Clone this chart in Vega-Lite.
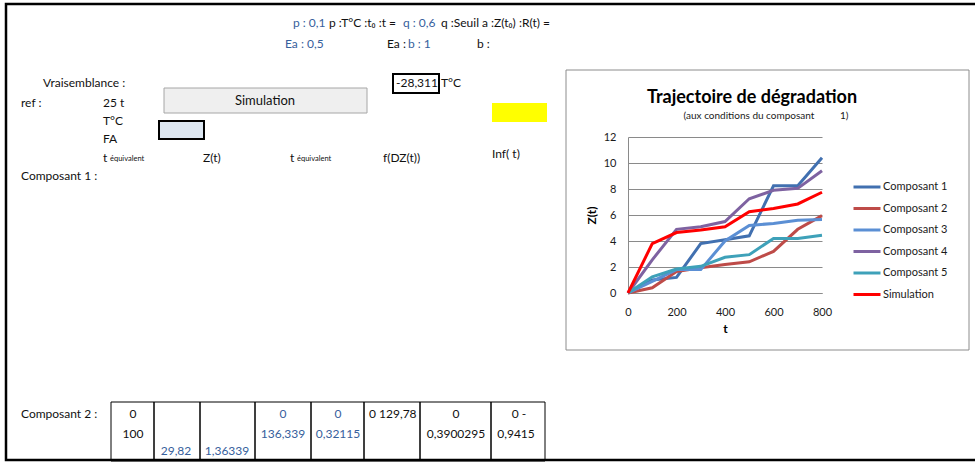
{
  "$schema": "https://vega.github.io/schema/vega-lite/v6.json",
  "width": 194,
  "height": 156,
  "autosize": {"type": "none"},
  "padding": {"left": 628, "top": 137, "right": 153, "bottom": 169},
  "background": "white",
  "config": {"view": {"stroke": null}, "font": "Lato", "text": {"font": "Lato"}},
  "datasets": {
    "traj": [
      {"t": 0, "z": 0, "serie": "Composant 1"},
      {"t": 100, "z": 1.0, "serie": "Composant 1"},
      {"t": 200, "z": 1.2, "serie": "Composant 1"},
      {"t": 300, "z": 3.8, "serie": "Composant 1"},
      {"t": 400, "z": 4.1, "serie": "Composant 1"},
      {"t": 500, "z": 4.4, "serie": "Composant 1"},
      {"t": 600, "z": 8.25, "serie": "Composant 1"},
      {"t": 700, "z": 8.25, "serie": "Composant 1"},
      {"t": 800, "z": 10.4, "serie": "Composant 1"},
      {"t": 0, "z": 0, "serie": "Composant 2"},
      {"t": 100, "z": 0.4, "serie": "Composant 2"},
      {"t": 200, "z": 1.65, "serie": "Composant 2"},
      {"t": 300, "z": 1.95, "serie": "Composant 2"},
      {"t": 400, "z": 2.2, "serie": "Composant 2"},
      {"t": 500, "z": 2.4, "serie": "Composant 2"},
      {"t": 600, "z": 3.2, "serie": "Composant 2"},
      {"t": 700, "z": 4.9, "serie": "Composant 2"},
      {"t": 800, "z": 5.95, "serie": "Composant 2"},
      {"t": 0, "z": 0, "serie": "Composant 3"},
      {"t": 100, "z": 0.9, "serie": "Composant 3"},
      {"t": 200, "z": 1.8, "serie": "Composant 3"},
      {"t": 300, "z": 1.8, "serie": "Composant 3"},
      {"t": 400, "z": 4.0, "serie": "Composant 3"},
      {"t": 500, "z": 5.2, "serie": "Composant 3"},
      {"t": 600, "z": 5.35, "serie": "Composant 3"},
      {"t": 700, "z": 5.6, "serie": "Composant 3"},
      {"t": 800, "z": 5.65, "serie": "Composant 3"},
      {"t": 0, "z": 0, "serie": "Composant 4"},
      {"t": 100, "z": 2.55, "serie": "Composant 4"},
      {"t": 200, "z": 4.9, "serie": "Composant 4"},
      {"t": 300, "z": 5.1, "serie": "Composant 4"},
      {"t": 400, "z": 5.5, "serie": "Composant 4"},
      {"t": 500, "z": 7.25, "serie": "Composant 4"},
      {"t": 600, "z": 7.9, "serie": "Composant 4"},
      {"t": 700, "z": 8.05, "serie": "Composant 4"},
      {"t": 800, "z": 9.4, "serie": "Composant 4"},
      {"t": 0, "z": 0, "serie": "Composant 5"},
      {"t": 100, "z": 1.25, "serie": "Composant 5"},
      {"t": 200, "z": 1.85, "serie": "Composant 5"},
      {"t": 300, "z": 2.05, "serie": "Composant 5"},
      {"t": 400, "z": 2.75, "serie": "Composant 5"},
      {"t": 500, "z": 2.95, "serie": "Composant 5"},
      {"t": 600, "z": 4.2, "serie": "Composant 5"},
      {"t": 700, "z": 4.2, "serie": "Composant 5"},
      {"t": 800, "z": 4.45, "serie": "Composant 5"},
      {"t": 0, "z": 0, "serie": "Simulation"},
      {"t": 100, "z": 3.8, "serie": "Simulation"},
      {"t": 200, "z": 4.65, "serie": "Simulation"},
      {"t": 300, "z": 4.85, "serie": "Simulation"},
      {"t": 400, "z": 5.1, "serie": "Simulation"},
      {"t": 500, "z": 6.25, "serie": "Simulation"},
      {"t": 600, "z": 6.5, "serie": "Simulation"},
      {"t": 700, "z": 6.85, "serie": "Simulation"},
      {"t": 800, "z": 7.75, "serie": "Simulation"}
    ]
  },
  "layer": [
    {
      "layer": [
        {
          "data": {"values": [{"x": 6, "y": 4, "x2": 995, "y2": 460}]},
          "mark": {"type": "rect", "fillOpacity": 0, "stroke": "#000000", "strokeWidth": 2.5},
          "encoding": {
            "x": {"field": "x", "type": "quantitative", "scale": {"domain": [0, 975], "range": [-628, 347], "nice": false, "zero": false}, "axis": null},
            "y": {"field": "y", "type": "quantitative", "scale": {"domain": [0, 462], "range": [-137, 325], "nice": false, "zero": false}, "axis": null},
            "x2": {"field": "x2"},
            "y2": {"field": "y2"}
          }
        },
        {
          "data": {"values": [{"x": 566, "y": 70, "x2": 969, "y2": 350}]},
          "mark": {"type": "rect", "fillOpacity": 0, "stroke": "#8c8c8c", "strokeWidth": 1},
          "encoding": {
            "x": {"field": "x", "type": "quantitative", "scale": {"domain": [0, 975], "range": [-628, 347], "nice": false, "zero": false}, "axis": null},
            "y": {"field": "y", "type": "quantitative", "scale": {"domain": [0, 462], "range": [-137, 325], "nice": false, "zero": false}, "axis": null},
            "x2": {"field": "x2"},
            "y2": {"field": "y2"}
          }
        },
        {
          "data": {"values": [{"x": 164, "y": 88, "x2": 367, "y2": 113}]},
          "mark": {"type": "rect", "fill": "#efefef", "stroke": "#a6a6a6", "strokeWidth": 1},
          "encoding": {
            "x": {"field": "x", "type": "quantitative", "scale": {"domain": [0, 975], "range": [-628, 347], "nice": false, "zero": false}, "axis": null},
            "y": {"field": "y", "type": "quantitative", "scale": {"domain": [0, 462], "range": [-137, 325], "nice": false, "zero": false}, "axis": null},
            "x2": {"field": "x2"},
            "y2": {"field": "y2"}
          }
        },
        {
          "data": {"values": [{"x": 492, "y": 103, "x2": 547, "y2": 122}]},
          "mark": {"type": "rect", "fill": "#ffff00"},
          "encoding": {
            "x": {"field": "x", "type": "quantitative", "scale": {"domain": [0, 975], "range": [-628, 347], "nice": false, "zero": false}, "axis": null},
            "y": {"field": "y", "type": "quantitative", "scale": {"domain": [0, 462], "range": [-137, 325], "nice": false, "zero": false}, "axis": null},
            "x2": {"field": "x2"},
            "y2": {"field": "y2"}
          }
        },
        {
          "data": {"values": [{"x": 159, "y": 121, "x2": 204, "y2": 139}]},
          "mark": {"type": "rect", "fill": "#dce6f1", "stroke": "#000000", "strokeWidth": 2},
          "encoding": {
            "x": {"field": "x", "type": "quantitative", "scale": {"domain": [0, 975], "range": [-628, 347], "nice": false, "zero": false}, "axis": null},
            "y": {"field": "y", "type": "quantitative", "scale": {"domain": [0, 462], "range": [-137, 325], "nice": false, "zero": false}, "axis": null},
            "x2": {"field": "x2"},
            "y2": {"field": "y2"}
          }
        },
        {
          "data": {"values": [{"x": 393, "y": 74, "x2": 439, "y2": 93}]},
          "mark": {"type": "rect", "fillOpacity": 0, "stroke": "#000000", "strokeWidth": 2},
          "encoding": {
            "x": {"field": "x", "type": "quantitative", "scale": {"domain": [0, 975], "range": [-628, 347], "nice": false, "zero": false}, "axis": null},
            "y": {"field": "y", "type": "quantitative", "scale": {"domain": [0, 462], "range": [-137, 325], "nice": false, "zero": false}, "axis": null},
            "x2": {"field": "x2"},
            "y2": {"field": "y2"}
          }
        },
        {
          "data": {"values": [
            {"x": 111, "y": 402, "x2": 154, "y2": 461},
            {"x": 154, "y": 402, "x2": 200, "y2": 461},
            {"x": 200, "y": 402, "x2": 255, "y2": 461},
            {"x": 255, "y": 402, "x2": 311, "y2": 461},
            {"x": 311, "y": 402, "x2": 364, "y2": 461},
            {"x": 364, "y": 402, "x2": 420, "y2": 461},
            {"x": 420, "y": 402, "x2": 491, "y2": 461},
            {"x": 491, "y": 402, "x2": 545, "y2": 461}
          ]},
          "mark": {"type": "rect", "fillOpacity": 0, "stroke": "#000000", "strokeWidth": 1},
          "encoding": {
            "x": {"field": "x", "type": "quantitative", "scale": {"domain": [0, 975], "range": [-628, 347], "nice": false, "zero": false}, "axis": null},
            "y": {"field": "y", "type": "quantitative", "scale": {"domain": [0, 462], "range": [-137, 325], "nice": false, "zero": false}, "axis": null},
            "x2": {"field": "x2"},
            "y2": {"field": "y2"}
          }
        },
        {
          "data": {"values": [{"x": 752, "y": 98, "text": "Trajectoire de dégradation"}]},
          "mark": {"type": "text", "align": "center", "baseline": "middle", "fontSize": 18, "fontWeight": "bold", "color": "#000000"},
          "encoding": {
            "x": {"field": "x", "type": "quantitative", "scale": {"domain": [0, 975], "range": [-628, 347], "nice": false, "zero": false}, "axis": null},
            "y": {"field": "y", "type": "quantitative", "scale": {"domain": [0, 462], "range": [-137, 325], "nice": false, "zero": false}, "axis": null},
            "text": {"field": "text"}
          }
        },
        {
          "data": {"values": [{"x": 766, "y": 116, "text": "(aux conditions du composant\u00a0\u00a0\u00a0\u00a0\u00a0\u00a0\u00a0\u00a0\u00a0\u00a01)"}]},
          "mark": {"type": "text", "align": "center", "baseline": "middle", "fontSize": 10, "color": "#1a1a1a"},
          "encoding": {
            "x": {"field": "x", "type": "quantitative", "scale": {"domain": [0, 975], "range": [-628, 347], "nice": false, "zero": false}, "axis": null},
            "y": {"field": "y", "type": "quantitative", "scale": {"domain": [0, 462], "range": [-137, 325], "nice": false, "zero": false}, "axis": null},
            "text": {"field": "text"}
          }
        },
        {
          "data": {"values": [
            {"x": 329, "y": 23, "text": "p :T°C  :t₀ :t ="},
            {"x": 441, "y": 23, "text": "q :Seuil a  :Z(t₀) :R(t) ="},
            {"x": 387, "y": 44, "text": "Ea :"},
            {"x": 477, "y": 44, "text": "b :"},
            {"x": 43, "y": 83, "text": "Vraisemblance :"},
            {"x": 396, "y": 83, "text": "-28,311"},
            {"x": 441, "y": 83, "text": "T°C"},
            {"x": 21, "y": 103, "text": "ref :"},
            {"x": 103, "y": 103, "text": "25 t"},
            {"x": 103, "y": 121, "text": "T°C"},
            {"x": 103, "y": 139, "text": "FA"},
            {"x": 103, "y": 158, "text": "t"},
            {"x": 203, "y": 158, "text": "Z(t)"},
            {"x": 290, "y": 158, "text": "t"},
            {"x": 383, "y": 158, "text": "f(DZ(t))"},
            {"x": 492, "y": 154, "text": "Inf( t)"},
            {"x": 21, "y": 176, "text": "Composant 1 :"},
            {"x": 21, "y": 414, "text": "Composant 2 :"},
            {"x": 369, "y": 414, "text": "0 129,78"}
          ]},
          "mark": {"type": "text", "align": "left", "baseline": "middle", "fontSize": 12, "color": "#111111"},
          "encoding": {
            "x": {"field": "x", "type": "quantitative", "scale": {"domain": [0, 975], "range": [-628, 347], "nice": false, "zero": false}, "axis": null},
            "y": {"field": "y", "type": "quantitative", "scale": {"domain": [0, 462], "range": [-137, 325], "nice": false, "zero": false}, "axis": null},
            "text": {"field": "text"}
          }
        },
        {
          "data": {"values": [
            {"x": 110, "y": 159, "text": "équivalent"},
            {"x": 297, "y": 159, "text": "équivalent"}
          ]},
          "mark": {"type": "text", "align": "left", "baseline": "middle", "fontSize": 7.5, "color": "#111111"},
          "encoding": {
            "x": {"field": "x", "type": "quantitative", "scale": {"domain": [0, 975], "range": [-628, 347], "nice": false, "zero": false}, "axis": null},
            "y": {"field": "y", "type": "quantitative", "scale": {"domain": [0, 462], "range": [-137, 325], "nice": false, "zero": false}, "axis": null},
            "text": {"field": "text"}
          }
        },
        {
          "data": {"values": [
            {"x": 293, "y": 23, "text": "p : 0,1"},
            {"x": 403, "y": 23, "text": "q : 0,6"},
            {"x": 285, "y": 44, "text": "Ea : 0,5"},
            {"x": 408, "y": 44, "text": "b : 1"}
          ]},
          "mark": {"type": "text", "align": "left", "baseline": "middle", "fontSize": 12, "color": "#36609c"},
          "encoding": {
            "x": {"field": "x", "type": "quantitative", "scale": {"domain": [0, 975], "range": [-628, 347], "nice": false, "zero": false}, "axis": null},
            "y": {"field": "y", "type": "quantitative", "scale": {"domain": [0, 462], "range": [-137, 325], "nice": false, "zero": false}, "axis": null},
            "text": {"field": "text"}
          }
        },
        {
          "data": {"values": [
            {"x": 265, "y": 101, "text": "Simulation"}
          ]},
          "mark": {"type": "text", "align": "center", "baseline": "middle", "fontSize": 13, "color": "#111111"},
          "encoding": {
            "x": {"field": "x", "type": "quantitative", "scale": {"domain": [0, 975], "range": [-628, 347], "nice": false, "zero": false}, "axis": null},
            "y": {"field": "y", "type": "quantitative", "scale": {"domain": [0, 462], "range": [-137, 325], "nice": false, "zero": false}, "axis": null},
            "text": {"field": "text"}
          }
        },
        {
          "data": {"values": [
            {"x": 133, "y": 414, "text": "0"},
            {"x": 133, "y": 434, "text": "100"},
            {"x": 456, "y": 414, "text": "0"},
            {"x": 456, "y": 434, "text": "0,3900295"},
            {"x": 519, "y": 414, "text": "0 -"},
            {"x": 516, "y": 434, "text": "0,9415"}
          ]},
          "mark": {"type": "text", "align": "center", "baseline": "middle", "fontSize": 12, "color": "#111111"},
          "encoding": {
            "x": {"field": "x", "type": "quantitative", "scale": {"domain": [0, 975], "range": [-628, 347], "nice": false, "zero": false}, "axis": null},
            "y": {"field": "y", "type": "quantitative", "scale": {"domain": [0, 462], "range": [-137, 325], "nice": false, "zero": false}, "axis": null},
            "text": {"field": "text"}
          }
        },
        {
          "data": {"values": [
            {"x": 176, "y": 451, "text": "29,82"},
            {"x": 227, "y": 451, "text": "1,36339"},
            {"x": 283, "y": 414, "text": "0"},
            {"x": 283, "y": 434, "text": "136,339"},
            {"x": 338, "y": 414, "text": "0"},
            {"x": 338, "y": 434, "text": "0,32115"}
          ]},
          "mark": {"type": "text", "align": "center", "baseline": "middle", "fontSize": 12, "color": "#36609c"},
          "encoding": {
            "x": {"field": "x", "type": "quantitative", "scale": {"domain": [0, 975], "range": [-628, 347], "nice": false, "zero": false}, "axis": null},
            "y": {"field": "y", "type": "quantitative", "scale": {"domain": [0, 462], "range": [-137, 325], "nice": false, "zero": false}, "axis": null},
            "text": {"field": "text"}
          }
        }
      ]
    },
    {
      "data": {"name": "traj"},
      "mark": {"type": "line", "strokeWidth": 3, "clip": false},
      "encoding": {
        "x": {
          "field": "t", "type": "quantitative",
          "scale": {"domain": [0, 800], "nice": false, "zero": true},
          "axis": {
            "values": [0, 200, 400, 600, 800],
            "grid": false, "ticks": false, "tickSize": 0,
            "domainColor": "#8c8c8c", "domainWidth": 1,
            "labelFontSize": 11, "labelColor": "#1a1a1a", "labelPadding": 13, "labelFont": "Lato",
            "labelFlush": false,
            "title": "t", "titleFontSize": 12, "titleFontWeight": "bold", "titleColor": "#000000", "titlePadding": 6, "titleFont": "Lato"
          }
        },
        "y": {
          "field": "z", "type": "quantitative",
          "scale": {"domain": [0, 12], "nice": false},
          "axis": {
            "values": [0, 2, 4, 6, 8, 10, 12],
            "grid": true, "gridColor": "#8a8a8a", "gridWidth": 1,
            "ticks": false, "tickSize": 0,
            "domainColor": "#8a8a8a", "domainWidth": 1,
            "labelFontSize": 11, "labelColor": "#1a1a1a", "labelPadding": 12, "labelFont": "Lato",
            "labelFlush": false,
            "title": "Z(t)", "titleFontSize": 12, "titleFontWeight": "bold", "titleColor": "#000000", "titlePadding": 5, "titleFont": "Lato"
          }
        },
        "color": {
          "field": "serie", "type": "nominal",
          "scale": {
            "domain": ["Composant 1", "Composant 2", "Composant 3", "Composant 4", "Composant 5", "Simulation"],
            "range": ["#4170b0", "#be4b48", "#5b8fd4", "#7e62a1", "#3ea1b9", "#ff0000"]
          },
          "legend": {
            "title": null,
            "orient": "none",
            "legendX": 224,
            "legendY": 35,
            "symbolType": "stroke",
            "symbolStrokeWidth": 3,
            "symbolSize": 729,
            "labelFontSize": 11,
            "labelFont": "Lato",
            "labelColor": "#1a1a1a",
            "labelOffset": 1,
            "rowPadding": 0.5
          }
        }
      }
    }
  ],
  "resolve": {"scale": {"x": "independent", "y": "independent"}}
}
